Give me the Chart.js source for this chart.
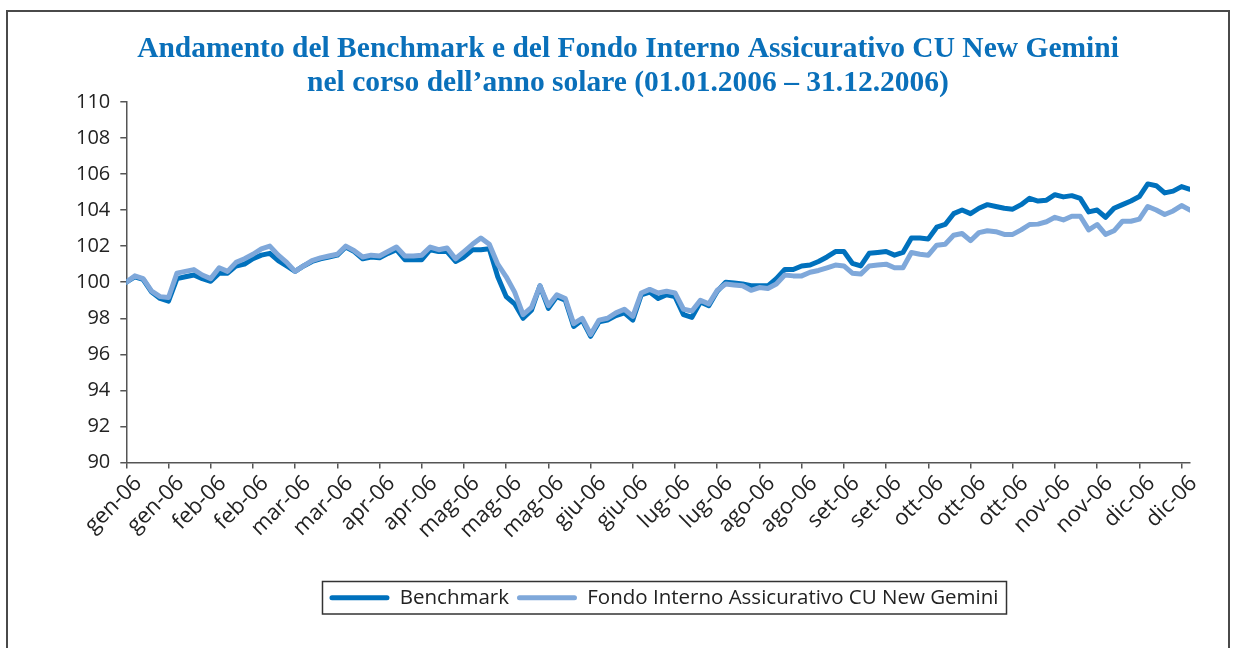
<!DOCTYPE html>
<html>
<head>
<meta charset="utf-8">
<script src="https://cdn.jsdelivr.net/npm/chart.js@4.4.0/dist/chart.umd.min.js"></script>
<style>
  html, body { margin: 0; padding: 0; background: #fff; }
  #frame { position: absolute; left: 6px; top: 10px; width: 1224px; height: 700px; border: 2px solid #4a4a4a; box-sizing: border-box; }
  #wrap { position: absolute; left: 0; top: 0; width: 1236px; height: 648px; }
</style>
</head>
<body>
<div id="frame"></div>
<div id="wrap"><canvas id="ourChart" width="1236" height="648"></canvas></div>
<script>
// one reading every 2 trading days, 01.01.2006 -> 31.12.2006
const STEP = 2;

const tickLabels = ['gen-06', 'gen-06', 'feb-06', 'feb-06', 'mar-06', 'mar-06', 'apr-06', 'apr-06',
    'mag-06', 'mag-06', 'mag-06', 'giu-06', 'giu-06', 'lug-06', 'lug-06', 'ago-06', 'ago-06',
    'set-06', 'set-06', 'ott-06', 'ott-06', 'ott-06', 'nov-06', 'nov-06', 'dic-06', 'dic-06'];

const benchmark = [
    100.0, 100.3, 100.15, 99.45, 99.1, 98.95, 100.2, 100.3, 100.4, 100.2,
    100.05, 100.5, 100.5, 100.9, 101.0, 101.3, 101.5, 101.6, 101.2, 100.9,
    100.6, 100.9, 101.15, 101.3, 101.4, 101.5, 101.95, 101.7, 101.3, 101.4,
    101.35, 101.6, 101.8, 101.25, 101.25, 101.25, 101.8, 101.7, 101.7, 101.15,
    101.4, 101.8, 101.8, 101.85, 100.3, 99.2, 98.8, 98.0, 98.45, 99.8,
    98.55, 99.2, 99.0, 97.55, 97.9, 97.0, 97.8, 97.9, 98.15, 98.3,
    97.9, 99.3, 99.45, 99.1, 99.3, 99.2, 98.2, 98.05, 98.9, 98.7,
    99.5, 100.0, 99.95, 99.9, 99.8, 99.8, 99.8, 100.2, 100.7, 100.7,
    100.9, 100.95, 101.15, 101.4, 101.7, 101.7, 101.05, 100.9, 101.6, 101.65,
    101.7, 101.5, 101.65, 102.45, 102.45, 102.4, 103.05, 103.2, 103.8, 104.0,
    103.8, 104.1, 104.3, 104.2, 104.1, 104.05, 104.3, 104.65, 104.5, 104.55,
    104.85, 104.73, 104.8, 104.65, 103.9, 104.0, 103.6, 104.1, 104.3, 104.5,
    104.75, 105.45, 105.35, 104.95, 105.05, 105.3, 105.15
];

const fondo = [
    100.0, 100.35, 100.2, 99.5, 99.2, 99.15, 100.5, 100.6, 100.7, 100.4,
    100.2, 100.8, 100.6, 101.1, 101.3, 101.55, 101.85, 102.0, 101.5, 101.1,
    100.6, 100.9, 101.2, 101.35, 101.45, 101.55, 102.0, 101.75, 101.4, 101.5,
    101.45, 101.7, 101.95, 101.45, 101.45, 101.5, 101.95, 101.8, 101.9, 101.3,
    101.7, 102.1, 102.45, 102.1, 101.0, 100.3, 99.45, 98.2, 98.6, 99.8,
    98.7, 99.3, 99.1, 97.7, 98.0, 97.1, 97.9, 98.0, 98.3, 98.5,
    98.1, 99.4, 99.6, 99.4, 99.5, 99.4, 98.5, 98.4, 99.0, 98.8,
    99.55, 99.9, 99.85, 99.8, 99.55, 99.7, 99.65, 99.9, 100.4, 100.35,
    100.35, 100.55, 100.65, 100.8, 100.95, 100.9, 100.5, 100.45, 100.9, 100.95,
    101.0, 100.8, 100.8, 101.65, 101.55, 101.5, 102.05, 102.1, 102.6, 102.7,
    102.3, 102.75, 102.85, 102.8, 102.65, 102.65, 102.9, 103.2, 103.22, 103.35,
    103.6, 103.45, 103.66, 103.66, 102.9, 103.2, 102.65, 102.85, 103.38, 103.38,
    103.5, 104.2, 104.0, 103.75, 103.95, 104.25, 104.0
];

const titleLines = [
    'Andamento del Benchmark e del Fondo Interno Assicurativo CU New Gemini',
    'nel corso dell\u2019anno solare (01.01.2006 \u2013 31.12.2006)'
];

const darkBlue = '#0071BD';
const lightBlue = '#7FA8DA';
const axisFont = { family: 'Open Sans', size: 20 };

// legend sits a bit right of the canvas centre in the original, and has a frame
const legendFrame = {
    id: 'legendFrame',
    afterLayout(chart) {
        // the legend plugin recomputes its hit boxes right after this
        chart.legend.left += 36;
        chart.legend.right += 36;
    },
    afterDraw(chart) {
        const boxes = chart.legend.legendHitBoxes;
        if (!boxes || !boxes.length) return;
        const left = Math.min(...boxes.map(b => b.left)) - 7;
        const right = Math.max(...boxes.map(b => b.left + b.width)) + 8;
        const top = Math.min(...boxes.map(b => b.top)) - 6;
        const bottom = Math.max(...boxes.map(b => b.top + b.height)) + 6;
        const ctx = chart.ctx;
        ctx.save();
        ctx.strokeStyle = '#333';
        ctx.lineWidth = 1.5;
        ctx.strokeRect(left, top, right - left, bottom - top);
        ctx.restore();
    }
};

const ourCanvas = document.getElementById('ourChart');

new Chart(ourCanvas, {
    type: 'line',
    data: {
        datasets: [
            {
                label: 'Benchmark',
                data: benchmark.map((v, i) => ({ x: i * STEP, y: v })),
                borderColor: darkBlue,
                backgroundColor: darkBlue,
                borderWidth: 5,
                order: 1,
            },
            {
                label: 'Fondo Interno Assicurativo CU New Gemini',
                data: fondo.map((v, i) => ({ x: i * STEP, y: v })),
                borderColor: lightBlue,
                backgroundColor: lightBlue,
                borderWidth: 5,
                order: 0,
            },
        ]
    },
    options: {
        responsive: false,
        animation: false,
        layout: {
            padding: { left: 66, right: 46, top: 0, bottom: 30 }
        },
        elements: {
            point: { radius: 0 },
            line: { tension: 0, borderJoinStyle: 'round', borderCapStyle: 'round' }
        },
        scales: {
            x: {
                type: 'linear',
                min: 0,
                max: (benchmark.length - 1) * STEP,
                border: { color: '#555', width: 1.5 },
                grid: { drawOnChartArea: false, tickLength: 6, color: '#555', lineWidth: 1.5 },
                afterFit: scale => { scale.height += 34; },
                ticks: {
                    stepSize: 10,
                    includeBounds: false,
                    autoSkip: false,
                    maxRotation: 45,
                    minRotation: 45,
                    padding: 2,
                    labelOffset: 12,
                    color: '#222',
                    font: { family: 'Open Sans', size: 22 },
                    callback: v => tickLabels[Math.round(v / 10)]
                }
            },
            y: {
                min: 90,
                max: 110,
                border: { color: '#555', width: 1.5 },
                grid: { drawOnChartArea: false, tickLength: 6, color: '#555', lineWidth: 1.5 },
                ticks: {
                    stepSize: 2,
                    padding: 10,
                    color: '#222',
                    font: axisFont
                }
            }
        },
        plugins: {
            title: {
                display: true,
                text: titleLines,
                color: '#0A70BA',
                font: { family: 'Liberation Serif', size: 29.5, weight: 'bold', lineHeight: 1.15 },
                padding: { top: 32, bottom: 2 }
            },
            legend: {
                display: true,
                position: 'bottom',
                labels: {
                    boxWidth: 60,
                    boxHeight: 5,
                    useBorderRadius: true,
                    borderRadius: 2.5,
                    padding: 8,
                    color: '#222',
                    font: { family: 'Open Sans', size: 20.5 },
                    generateLabels: chart => Chart.defaults.plugins.legend.labels.generateLabels(chart)
                        .map(l => ({ ...l, lineWidth: 0 })),
                    sort: (a, b) => a.datasetIndex - b.datasetIndex
                }
            },
            tooltip: { enabled: false }
        }
    },
    plugins: [legendFrame]
});
</script>
</body>
</html>
